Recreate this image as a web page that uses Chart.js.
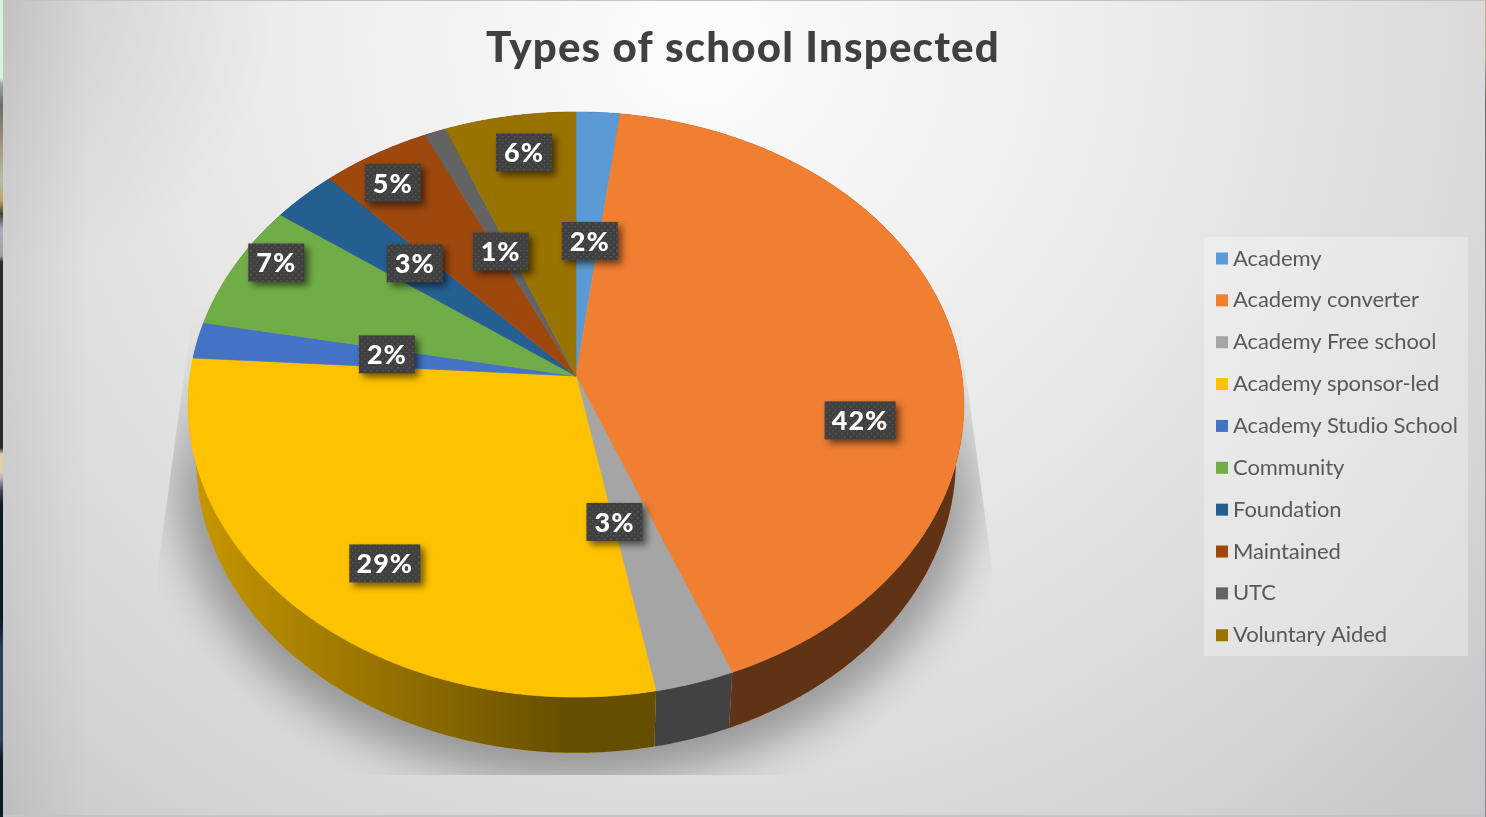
<!DOCTYPE html>
<html lang="en">
<head>
    <meta charset="UTF-8">
    <title>Types of school Inspected</title>
    <style>
        html, body { margin: 0; padding: 0; background: #d8d8d8; }
        canvas { display: block; }
    </style>
</head>
<body>
    <canvas id="schoolChart" width="1486" height="817"></canvas>

    <script src="https://cdn.jsdelivr.net/npm/chart.js"></script>
    <script>
        const categories = ["Academy", "Academy converter", "Academy Free school", "Academy sponsor-led",
            "Academy Studio School", "Community", "Foundation", "Maintained", "UTC", "Voluntary Aided"];
        const percentages = [2, 42, 3, 29, 2, 7, 3, 5, 1, 6];
        const sliceColors = ["#5B9BD5", "#F07F32", "#A5A5A5", "#FFC200", "#4472C4",
            "#70AD47", "#255E91", "#9E480E", "#636363", "#997300"];

        // where each value label sits relative to the middle of its slice
        const labelOffsets = [[0, 29], [56, 66], [-30, -31], [-31, 51], [39, 0],
            [-92, -46], [6, -2], [-59, -56], [12, 27], [-11, -62]];

        // the pie lies tilted, so the near half of the disc comes out larger than the far half
        const tilt = -0.0975;
        const topRim = { cx: 576, cy: 376, rx: 386, ry: 289.8 };
        const baseRim = { cx: 576, cy: 431.5, rx: 378, ry: 290 };

        function project(rim, angle, fraction) {
            const x = fraction * Math.cos(angle);
            const y = fraction * Math.sin(angle);
            const d = 1 + tilt * y;
            return { x: rim.cx + rim.rx * x / d, y: rim.cy + rim.ry * y / d };
        }

        function traceRim(ctx, rim, from, to) {
            const steps = Math.max(2, Math.ceil(Math.abs(to - from) / 0.01));
            for (let i = 0; i <= steps; i++) {
                const p = project(rim, from + (to - from) * i / steps, 1);
                ctx.lineTo(p.x, p.y);
            }
        }

        function verticalStrip(ctx, x, width, h, stops) {
            const strip = ctx.createLinearGradient(0, 0, 0, h);
            stops.forEach(s => strip.addColorStop(s[0] / h, s[1]));
            ctx.fillStyle = strip;
            ctx.fillRect(x, 0, width, h);
        }

        function drawBackground(ctx, w, h) {
            const glow = ctx.createRadialGradient(700, 40, 0, 700, 40, 1050);
            glow.addColorStop(0, "#fcfcfc");
            glow.addColorStop(0.4, "#ececec");
            glow.addColorStop(0.85, "#d4d4d4");
            glow.addColorStop(1, "#c8c8c8");
            ctx.fillStyle = glow;
            ctx.fillRect(0, 0, w, h);

            // darker towards the left side and its top corner
            const side = ctx.createLinearGradient(0, 0, 90, 0);
            side.addColorStop(0, "rgba(0,0,0,0.06)");
            side.addColorStop(1, "rgba(0,0,0,0)");
            ctx.fillStyle = side;
            ctx.fillRect(0, 0, 90, h);
            const corner = ctx.createRadialGradient(0, 0, 0, 0, 0, 280);
            corner.addColorStop(0, "rgba(0,0,0,0.08)");
            corner.addColorStop(1, "rgba(0,0,0,0)");
            ctx.fillStyle = corner;
            ctx.fillRect(0, 0, 280, 280);

            // thin frame and the slivers of another picture along both edges
            ctx.fillStyle = "#c4c4c4";
            ctx.fillRect(0, 0, w, 1);
            ctx.fillRect(0, h - 2, w, 2);
            verticalStrip(ctx, 0, 3, h, [[0, "#d2f6d6"], [78, "#d2f6d6"], [84, "#98a8a0"], [106, "#6c6c60"],
                [150, "#a89c84"], [180, "#b4bca4"], [200, "#c4a468"], [214, "#444038"], [230, "#a8b0b8"],
                [256, "#9aa2a4"], [262, "#1f2d2f"], [448, "#1f2d2f"], [454, "#e0d0a0"], [472, "#e0d0a0"],
                [478, "#b4b0bc"], [490, "#4a4a50"], [505, "#0c1a28"], [620, "#0c1a28"], [650, "#2a3f60"],
                [740, "#2a3f60"], [760, "#0c1a28"], [817, "#0c1a28"]]);
            verticalStrip(ctx, w - 1, 1, h, [[0, "#c8b880"], [60, "#b0a890"], [100, "#6c6860"],
                [400, "#8a8a8a"], [720, "#9098a8"], [817, "#808898"]]);
        }

        function drawCastShadow(ctx) {
            ctx.save();
            ctx.beginPath();
            ctx.moveTo(197, 280);
            ctx.lineTo(158, 567);
            ctx.lineTo(158, 775);
            ctx.lineTo(992, 775);
            ctx.lineTo(992, 567);
            ctx.lineTo(953, 280);
            ctx.closePath();
            ctx.clip();
            ctx.filter = "blur(22px)";
            const fade = ctx.createLinearGradient(0, 320, 0, 500);
            fade.addColorStop(0, "rgba(0,0,0,0)");
            fade.addColorStop(1, "rgba(0,0,0,0.32)");
            ctx.fillStyle = fade;
            ctx.beginPath();
            ctx.ellipse(576, 468, 402, 312, 0, 0, Math.PI * 2);
            ctx.fill();
            ctx.restore();
        }

        function drawWalls(ctx, arcs) {
            const shade = ctx.createLinearGradient(190, 0, 570, 0);
            shade.addColorStop(0, "rgba(0,0,0,0.22)");
            shade.addColorStop(1, "rgba(0,0,0,0.6)");
            arcs.forEach((arc, i) => {
                ctx.beginPath();
                traceRim(ctx, topRim, arc.startAngle, arc.endAngle);
                traceRim(ctx, baseRim, arc.endAngle, arc.startAngle);
                ctx.closePath();
                ctx.fillStyle = sliceColors[i];
                ctx.fill();
                ctx.fillStyle = shade;
                ctx.fill();
            });
        }

        function drawSlices(ctx, arcs) {
            arcs.forEach((arc, i) => {
                ctx.beginPath();
                ctx.moveTo(topRim.cx, topRim.cy);
                traceRim(ctx, topRim, arc.startAngle, arc.endAngle);
                ctx.closePath();
                ctx.fillStyle = sliceColors[i];
                ctx.strokeStyle = sliceColors[i];
                ctx.lineWidth = 0.6;
                ctx.fill();
                ctx.stroke();
            });
        }

        function dotPattern(ctx) {
            const tile = document.createElement("canvas");
            tile.width = 6;
            tile.height = 6;
            const t = tile.getContext("2d");
            t.fillStyle = "#404040";
            t.fillRect(0, 0, 6, 6);
            t.fillStyle = "#565656";
            t.fillRect(1, 1, 1.5, 1.5);
            t.fillRect(4, 4, 1.5, 1.5);
            return ctx.createPattern(tile, "repeat");
        }

        function drawLabels(ctx, arcs) {
            const dots = dotPattern(ctx);
            ctx.font = "900 27px Lato";
            ctx.letterSpacing = "1px";
            ctx.textAlign = "center";
            ctx.textBaseline = "middle";
            arcs.forEach((arc, i) => {
                const mid = (arc.startAngle + arc.endAngle) / 2;
                const spot = project(topRim, mid, 0.6);
                const x = spot.x + labelOffsets[i][0];
                const y = spot.y + labelOffsets[i][1];
                const text = percentages[i] + "%";
                const w = text.length > 2 ? 71 : 56;
                ctx.save();
                ctx.shadowColor = "rgba(0,0,0,0.55)";
                ctx.shadowBlur = 7;
                ctx.shadowOffsetX = 4;
                ctx.shadowOffsetY = 4;
                ctx.fillStyle = dots;
                ctx.fillRect(x - w / 2, y - 19, w, 38);
                ctx.restore();
                ctx.fillStyle = "#ffffff";
                ctx.fillText(text, x, y + 1);
            });
            ctx.letterSpacing = "0px";
        }

        function drawLegend(ctx) {
            ctx.fillStyle = "rgba(255,255,255,0.3)";
            ctx.fillRect(1204, 237, 264, 419);
            ctx.font = "22px Lato";
            ctx.letterSpacing = "-0.1px";
            ctx.textAlign = "left";
            ctx.textBaseline = "middle";
            categories.forEach((name, i) => {
                const y = 258.5 + i * 41.86;
                ctx.fillStyle = sliceColors[i];
                ctx.fillRect(1216, y - 6, 12, 12);
                ctx.fillStyle = "#595959";
                ctx.fillText(name, 1233, y);
            });
            ctx.letterSpacing = "0px";
        }

        const tiltedPie = {
            id: "tiltedPie",
            beforeDraw(chart) {
                drawBackground(chart.ctx, chart.width, chart.height);
                chart.ctx.letterSpacing = "1.2px";
            },
            beforeDatasetsDraw(chart) {
                chart.ctx.letterSpacing = "0px";
            },
            beforeDatasetDraw(chart, args) {
                const ctx = chart.ctx;
                const arcs = chart.getDatasetMeta(args.index).data;
                drawCastShadow(ctx);
                drawWalls(ctx, arcs);
                drawSlices(ctx, arcs);
                return false;
            },
            afterDatasetsDraw(chart) {
                drawLabels(chart.ctx, chart.getDatasetMeta(0).data);
                drawLegend(chart.ctx);
            }
        };

        new Chart(document.getElementById("schoolChart"), {
            type: "pie",
            data: {
                labels: categories,
                datasets: [{ data: percentages, backgroundColor: sliceColors }]
            },
            options: {
                responsive: false,
                animation: false,
                plugins: {
                    legend: { display: false },
                    tooltip: { enabled: false },
                    title: {
                        display: true,
                        text: "Types of school Inspected",
                        color: "#404040",
                        font: { family: "Lato", size: 42, weight: "900" },
                        padding: { top: 23, bottom: 10 }
                    }
                }
            },
            plugins: [tiltedPie]
        });
    </script>
</body>
</html>
